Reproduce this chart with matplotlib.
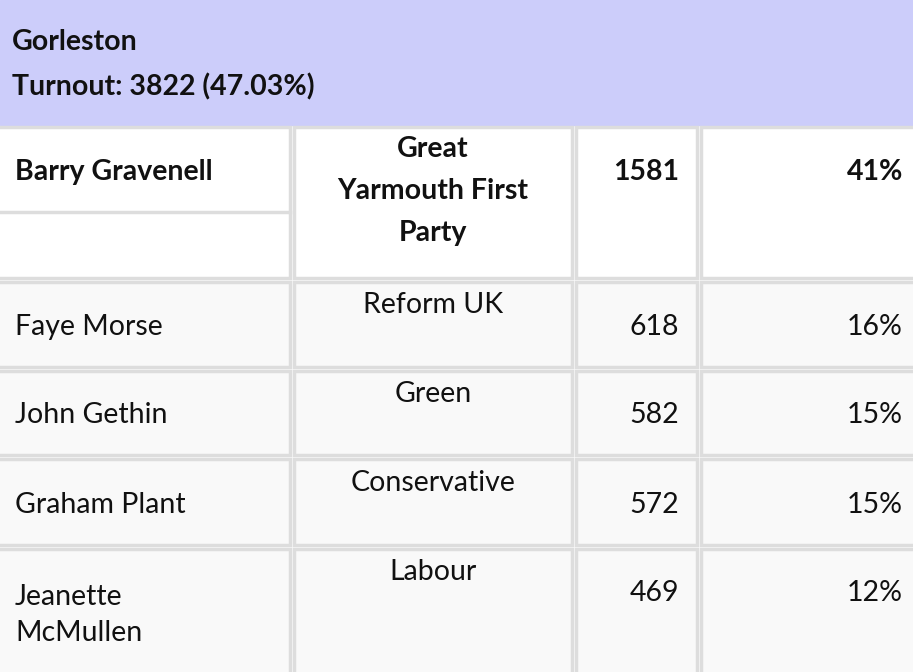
import matplotlib
matplotlib.use("Agg")
import matplotlib.pyplot as plt

title = "Gorleston"
turnout = "Turnout: 3822 (47.03%)"
candidates = ["Barry Gravenell", "Faye Morse", "John Gethin", "Graham Plant", "Jeanette\nMcMullen"]
parties = ["Great\nYarmouth First\nParty", "Reform UK", "Green", "Conservative", "Labour"]
votes = [1581, 618, 582, 572, 469]
shares = ["41%", "16%", "15%", "15%", "12%"]

FONT = ["Lato", "DejaVu Sans"]
FS = 20.5
fig = plt.figure(figsize=(9.13, 6.72), dpi=100)
ax = fig.add_axes([0, 0, 1, 1])
ax.set_xlim(0, 913); ax.set_ylim(672, 0); ax.axis("off")

ax.add_patch(plt.Rectangle((0, 0), 913, 125, color="#cccdfa", zorder=0))
ax.text(12, 42, title, fontsize=FS, fontweight="bold", va="center", family=FONT, color="#111")
ax.text(12, 87, turnout, fontsize=FS, fontweight="bold", va="center", family=FONT, color="#111")

grey = "#dddddd"
rows = [(125, 280), (280, 369), (369, 457), (457, 547), (547, 680)]
cols = [(-5, 292), (292, 574), (574, 699), (699, 920)]
for r, (y0, y1) in enumerate(rows):
    for (x0, x1) in cols:
        fc = "#f9f9f9" if r > 0 else "white"
        ax.add_patch(plt.Rectangle((x0 + 2, y0 + 2), x1 - x0 - 4, y1 - y0 - 4,
                                   fc=fc, ec=grey, lw=2.5, zorder=1))
ax.plot([0, 290], [212, 212], color=grey, lw=2.5, zorder=2)

centers = [172, 327, 415, 505, 593]
ptop = [136, 292, 381, 470, 559]
for i in range(5):
    bold = "bold" if i == 0 else "normal"
    cy = centers[i]
    if i == 4:
        ax.text(15, 615, candidates[i], fontsize=FS, va="center", family=FONT,
                linespacing=1.45, color="#111", zorder=3)
    else:
        ax.text(15, cy, candidates[i], fontsize=FS, fontweight=bold, va="center",
                family=FONT, color="#111", zorder=3)
    ax.text(433, ptop[i], parties[i], fontsize=FS, fontweight=bold, va="top", ha="center",
            family=FONT, linespacing=1.75, color="#111", zorder=3)
    ax.text(679, cy, str(votes[i]), fontsize=FS, fontweight=bold, va="center", ha="right",
            family=FONT, color="#111", zorder=3)
    ax.text(903, cy, shares[i], fontsize=FS, fontweight=bold, va="center", ha="right",
            family=FONT, color="#111", zorder=3)

fig.savefig("out.png", dpi=100)
